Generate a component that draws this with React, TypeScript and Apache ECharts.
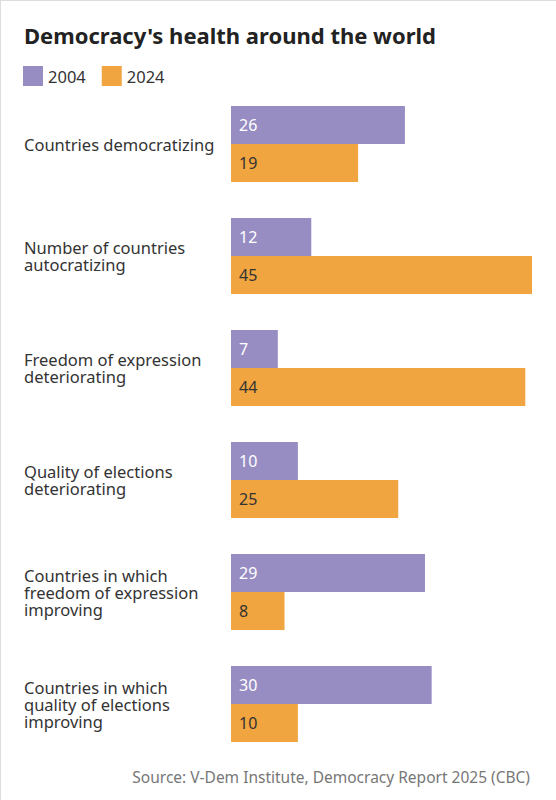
import React, { useEffect, useRef } from "react";
import * as echarts from "echarts";

const categories = [
  "Countries democratizing",
  "Number of countries\nautocratizing",
  "Freedom of expression\ndeteriorating",
  "Quality of elections\ndeteriorating",
  "Countries in which\nfreedom of expression\nimproving",
  "Countries in which\nquality of elections\nimproving",
];
const values2004 = [26, 12, 7, 10, 29, 30];
const values2024 = [19, 45, 44, 25, 8, 10];
const seriesNames = ["2004", "2024"];

const FONT = "'Noto Sans', 'Open Sans', sans-serif";

export default function App() {
  const ref = useRef<HTMLDivElement>(null);
  useEffect(() => {
    document.body.style.margin = "0";
    const chart = echarts.init(ref.current!, null, { renderer: "svg" });
    chart.setOption({
      animation: false,
      backgroundColor: "#ffffff",
      title: {
        text: "Democracy's health around the world",
        left: 24,
        top: 24,
        padding: 0,
        textStyle: { fontFamily: FONT, fontSize: 22, fontWeight: "bold", color: "#222" },
      },
      legend: {
        left: 23,
        top: 66,
        padding: 0,
        itemWidth: 20,
        itemHeight: 20,
        itemGap: 16,
        icon: "rect",
        data: seriesNames,
        textStyle: { fontFamily: FONT, fontSize: 16.5, color: "#333" },
      },
      graphic: [
        {
          type: "line",
          shape: { x1: 0.5, y1: 0, x2: 0.5, y2: 800 },
          style: { stroke: "#dddddd", lineWidth: 1 },
        },
        {
          type: "line",
          shape: { x1: 0, y1: 0.5, x2: 556, y2: 0.5 },
          style: { stroke: "#dddddd", lineWidth: 1 },
        },
        {
          type: "text",
          right: 26,
          top: 769,
          style: {
            text: "Source: V-Dem Institute, Democracy Report 2025 (CBC)",
            fontFamily: FONT,
            fontSize: 15.5,
            fill: "#777",
          },
        },
      ],
      grid: { left: 231, right: 24, top: 88, height: 672 },
      xAxis: {
        type: "value",
        min: 0,
        max: 45,
        show: false,
      },
      yAxis: {
        type: "category",
        inverse: true,
        data: categories,
        axisLine: { show: false },
        axisTick: { show: false },
        axisLabel: {
          align: "left",
          margin: 207,
          fontFamily: FONT,
          fontSize: 16.5,
          lineHeight: 17,
          color: "#333",
        },
      },
      series: [
        {
          name: seriesNames[0],
          type: "bar",
          data: values2004,
          barWidth: 38,
          barGap: "0%",
          itemStyle: { color: "#978dc3" },
          label: {
            show: true,
            position: "insideLeft",
            distance: 8,
            color: "#ffffff",
            fontFamily: FONT,
            fontSize: 16,
          },
        },
        {
          name: seriesNames[1],
          type: "bar",
          data: values2024,
          barWidth: 38,
          barGap: "0%",
          itemStyle: { color: "#f0a540" },
          label: {
            show: true,
            position: "insideLeft",
            distance: 8,
            color: "#333333",
            fontFamily: FONT,
            fontSize: 16,
          },
        },
      ],
    });
    return () => chart.dispose();
  }, []);
  return <div ref={ref} style={{ width: 556, height: 800 }} />;
}
